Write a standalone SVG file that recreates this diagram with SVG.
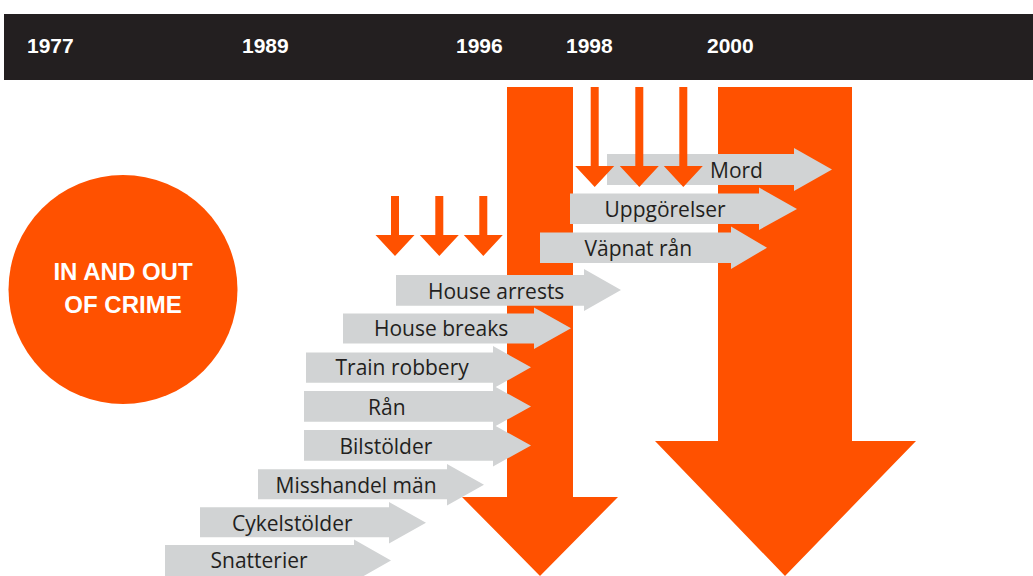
<svg xmlns="http://www.w3.org/2000/svg" width="1033" height="576" viewBox="0 0 1033 576">
<style>
.bar{fill:#231f20}
.yr{font-family:"Liberation Sans",Arial,sans-serif;font-weight:bold;font-size:21px;fill:#ffffff}
.org{fill:#ff5100}
.gray{fill:#d1d3d4}
.lbl{font-family:"Open Sans","Liberation Sans",sans-serif;font-size:21px;fill:#231f20}
.title{font-family:"Liberation Sans",Arial,sans-serif;font-weight:bold;font-size:24px;fill:#ffffff}
</style>
<defs>
<path id="small" d="M-4,0 H4 V79 H19.5 L0,100 L-19.5,79 H-4 Z"/>
<path id="smallL" d="M-4,0 H4 V39 H19.5 L0,60 L-19.5,39 H-4 Z"/>
</defs>
<rect width="1033" height="576" fill="#ffffff"/>
<g id="timeline">
<rect class="bar" x="4" y="14" width="1029" height="66"/>
<text class="yr" x="27" y="53">1977</text>
<text class="yr" x="242" y="53">1989</text>
<text class="yr" x="456" y="53">1996</text>
<text class="yr" x="566" y="53">1998</text>
<text class="yr" x="707" y="53">2000</text>
</g>
<g id="big-arrow-left">
<path class="org" d="M507,87 H573 V497 H618 L540,576 L462,497 H507 Z"/>
</g>
<g id="big-arrow-right">
<path class="org" d="M718,87 H852 V441 H916 L785,576 L655,441 H718 Z"/>
</g>
<g id="circle">
<circle class="org" cx="123" cy="289.5" r="114.5"/>
<text class="title" x="123" y="280" text-anchor="middle">IN AND OUT</text>
<text class="title" x="123" y="313" text-anchor="middle">OF CRIME</text>
</g>
<g id="connectors">
<g id="mord"><path class="gray" d="M607,154 H794 V148 L832,169.5 L794,191 V185 H607 Z"/><text class="lbl" x="710" y="177.5">Mord</text></g>
<g id="uppgorelser"><path class="gray" d="M570,193.5 H759 V187.5 L797,209 L759,230 V224 H570 Z"/><text class="lbl" x="604.5" y="217">Uppgörelser</text></g>
<g id="vapnat-ran"><path class="gray" d="M540,232.5 H731 V226.5 L767,247.7 L731,269 V263 H540 Z"/><text class="lbl" x="584.5" y="256">Väpnat rån</text></g>
<g id="house-arrests"><path class="gray" d="M396,275 H584 V269 L621,290 L584,311 V305.7 H396 Z"/><text class="lbl" x="428" y="298.5">House arrests</text></g>
<g id="house-breaks"><path class="gray" d="M343,313.5 H534 V307.5 L571,328.3 L534,349 V343.5 H343 Z"/><text class="lbl" x="374" y="336">House breaks</text></g>
<g id="train-robbery"><path class="gray" d="M306,352.5 H493 V346 L531,367.3 L493,388.5 V382.7 H306 Z"/><text class="lbl" x="335.5" y="375">Train robbery</text></g>
<g id="ran"><path class="gray" d="M304,391 H493 V385.5 L531,406.5 L493,427.5 V421.7 H304 Z"/><text class="lbl" x="368" y="415">Rån</text></g>
<g id="bilstolder"><path class="gray" d="M304,430 H493 V424.5 L531,445.5 L493,466.5 V460.7 H304 Z"/><text class="lbl" x="339.5" y="454">Bilstölder</text></g>
<g id="misshandel"><path class="gray" d="M258,469.3 H447 V464 L484,484.7 L447,505.5 V499.3 H258 Z"/><text class="lbl" x="275.5" y="493">Misshandel män</text></g>
<g id="cykelstolder"><path class="gray" d="M200,507.3 H389 V502 L426,522.7 L389,543.5 V537.3 H200 Z"/><text class="lbl" x="232" y="531">Cykelstölder</text></g>
<g id="snatterier"><path class="gray" d="M165,545 H354 V539.5 L391,560.5 L354,581.5 V576 H165 Z"/><text class="lbl" x="210.5" y="567.5">Snatterier</text></g>
</g>
<g id="small-arrows-1998">
<use href="#small" class="org" x="594.7" y="87"/>
<use href="#small" class="org" x="639.3" y="87"/>
<use href="#small" class="org" x="683.3" y="87"/>
</g>
<g id="small-arrows-1996">
<use href="#smallL" class="org" x="395" y="196"/>
<use href="#smallL" class="org" x="439.3" y="196"/>
<use href="#smallL" class="org" x="483.3" y="196"/>
</g>
</svg>
